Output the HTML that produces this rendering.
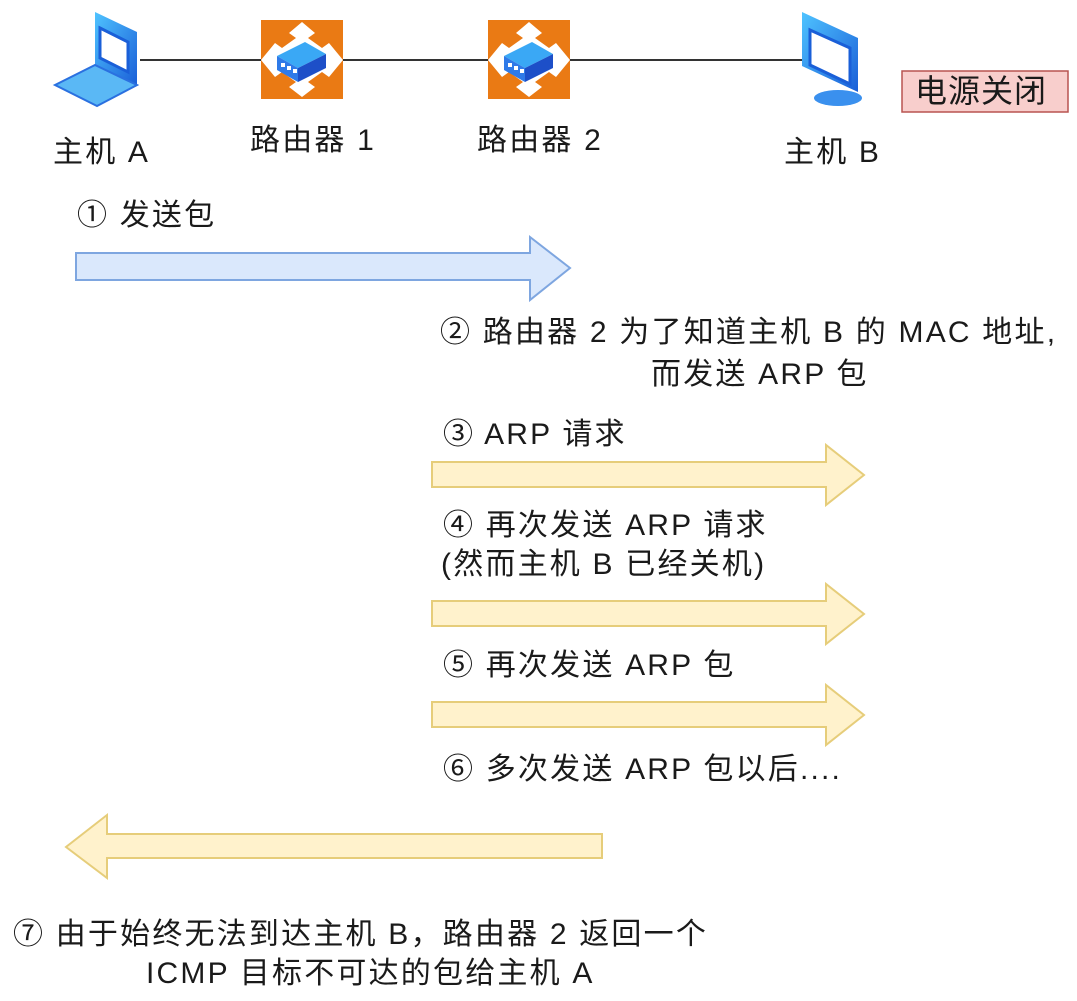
<!DOCTYPE html>
<html><head><meta charset="utf-8"><style>
body{margin:0;width:1077px;height:1001px;background:#fff;position:relative;overflow:hidden;font-family:"Liberation Sans","Noto Sans CJK SC",sans-serif;color:#1a1a1a}
.t{position:absolute;font-size:30px;letter-spacing:2.2px;white-space:nowrap;line-height:36px}
</style></head><body>
<svg width="1077" height="1001" style="position:absolute;left:0;top:0">
<defs>
<linearGradient id="bl" x1="0" y1="0" x2="1" y2="1"><stop offset="0" stop-color="#4fc3ff"/><stop offset="1" stop-color="#1a5fd8"/></linearGradient>
</defs>
<line x1="140" y1="60" x2="830" y2="60" stroke="#333" stroke-width="2"/>
<polygon points="95,12 137,32 137,85 95,65" fill="url(#bl)"/>
<polygon points="100,28 128,42 128,72 100,58" fill="#fff" stroke="#1a5fd8" stroke-width="3"/>
<polygon points="55,85 95,65 137,85 97,106" fill="#5ab8f5" stroke="#2a70e0" stroke-width="2"/>
<g id="r"><rect x="261" y="20" width="82" height="79" fill="#ea7a14"/>
<polygon points="302,22 315,33 308,38 322,48 329,43 343,60 329,77 322,72 308,82 315,87 302,97 289,87 296,82 282,72 275,77 261,60 275,43 282,48 296,38 289,33" fill="#fff"/>
<polygon points="277,56 305,42 326,54 298,68" fill="#3aa8f5"/>
<polygon points="277,56 298,68 298,82 277,70" fill="#2f7ae8"/>
<polygon points="298,68 326,54 326,68 298,82" fill="#1d4fc8"/>
<rect x="281" y="63" width="4" height="4" fill="#fff"/><rect x="287" y="66" width="4" height="4" fill="#fff"/><rect x="293" y="69" width="4" height="4" fill="#fff"/></g>
<use href="#r" x="227"/>
<polygon points="802,12 858,38 858,92 802,66" fill="url(#bl)"/>
<polygon points="810,30 850,48 850,84 810,65" fill="#fff" stroke="#1a5fd8" stroke-width="3"/>
<ellipse cx="838" cy="98" rx="24" ry="8" fill="#3a90ee"/>
<polygon points="76,253 530,253 530,237 570,268 530,300 530,280 76,280" fill="#dae8fc" stroke="#7ea6e0" stroke-width="2"/>
<g fill="#fff2cc" stroke="#e6cd7a" stroke-width="2">
<polygon points="432,462 826,462 826,445 864,475 826,505 826,487 432,487"/>
<polygon points="432,601 826,601 826,584 864,614 826,644 826,626 432,626"/>
<polygon points="432,702 826,702 826,685 864,715 826,745 826,727 432,727"/>
<polygon points="602,834 107,834 107,815 66,847 107,878 107,858 602,858"/>
</g>
<rect x="902" y="71" width="166" height="41" fill="#f8cecc" stroke="#b85450" stroke-width="1.5"/>
</svg>
<div class="t" style="left:53px;top:135px">主机 A</div>
<div class="t" style="left:250px;top:123px">路由器 1</div>
<div class="t" style="left:477px;top:123px">路由器 2</div>
<div class="t" style="left:784px;top:135px">主机 B</div>
<div class="t" style="left:915px;top:73px;font-size:32px;letter-spacing:1px">电源关闭</div>
<div class="t" style="left:77px;top:198px">① 发送包</div>
<div class="t" style="left:440px;top:315px">② 路由器 2 为了知道主机 B 的 MAC 地址,</div>
<div class="t" style="left:651px;top:357px">而发送 ARP 包</div>
<div class="t" style="left:443px;top:417px">③ ARP 请求</div>
<div class="t" style="left:443px;top:508px">④ 再次发送 ARP 请求</div>
<div class="t" style="left:441px;top:547px">(然而主机 B 已经关机)</div>
<div class="t" style="left:443px;top:648px">⑤ 再次发送 ARP 包</div>
<div class="t" style="left:443px;top:752px">⑥ 多次发送 ARP 包以后....</div>
<div class="t" style="left:13px;top:917px">⑦ 由于始终无法到达主机 B，路由器 2 返回一个</div>
<div class="t" style="left:146px;top:956px">ICMP 目标不可达的包给主机 A</div>
</body></html>
